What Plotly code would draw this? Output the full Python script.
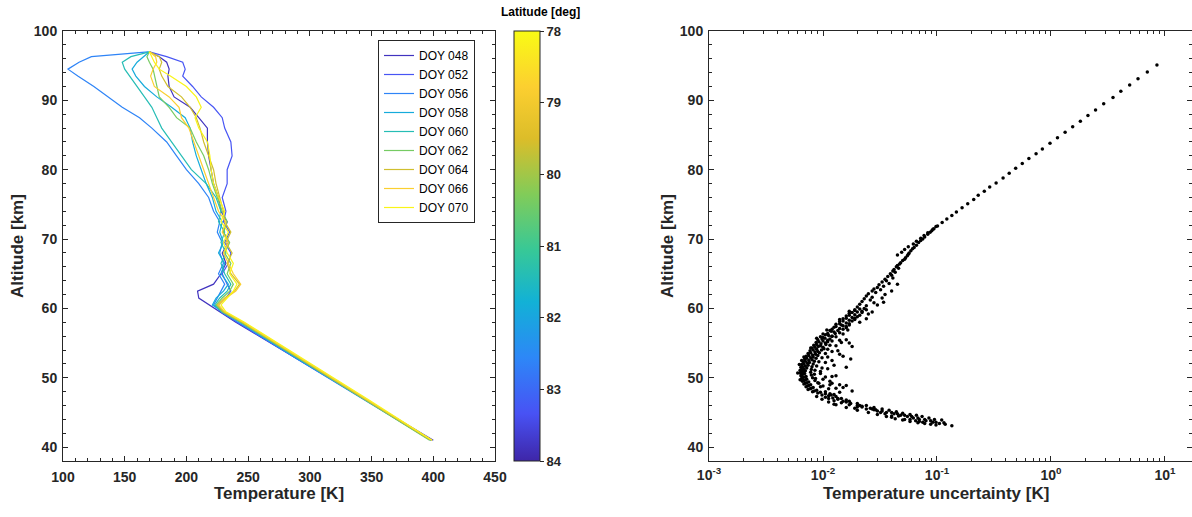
import plotly.graph_objects as go
from plotly.colors import sample_colorscale

W, H = 1192, 517

# ---------------- data: temperature profiles ----------------
altitude_km = [41, 44, 47, 50, 53, 56, 58, 59.5, 60.5, 61.5, 62.5, 63.5, 65, 66.5, 68, 69.5,
               71, 72.5, 74, 76, 78, 80, 82, 84, 86, 87.5, 89, 90.5, 92, 93.5, 94.5, 95.5, 96.3, 97]

doy_labels = ["DOY 048", "DOY 052", "DOY 056", "DOY 058", "DOY 060",
              "DOY 062", "DOY 064", "DOY 066", "DOY 070"]
latitudes = [83.8, 83.3, 82.6, 81.9, 81.4, 80.4, 79.6, 78.8, 78.1]

T048 = [400, 372, 344, 316, 288, 259, 240, 227, 218, 210, 209, 222, 228, 232, 229, 234, 230, 233,
        228, 226, 222, 220, 218, 217, 217, 210, 203, 190, 186, 185, 186, 184, 178, 170]
T052 = [399, 371, 343, 315, 287, 259, 241, 228, 226, 232, 236, 233, 229, 234, 236, 231, 235, 230,
        232, 229, 233, 233, 237, 236, 231, 229, 222, 212, 205, 197, 199, 197, 184, 170]
T056 = [398, 370, 342, 315, 287, 260, 242, 228, 222, 225, 228, 231, 226, 230, 227, 229, 225, 227,
        222, 218, 210, 200, 192, 184, 172, 162, 148, 137, 125, 112, 104, 113, 123, 169]
T058 = [398, 371, 343, 316, 288, 261, 243, 229, 221, 224, 230, 234, 228, 231, 226, 230, 227, 229,
        224, 221, 216, 212, 208, 205, 203, 199, 188, 176, 166, 159, 156, 160, 165, 170]
T060 = [398, 371, 343, 316, 289, 262, 244, 229, 223, 227, 233, 236, 231, 228, 232, 228, 231, 226,
        228, 224, 216, 204, 196, 188, 180, 176, 172, 166, 160, 154, 150, 148, 155, 170]
T062 = [397, 370, 343, 316, 289, 262, 244, 229, 224, 229, 235, 238, 233, 236, 231, 235, 230, 233,
        229, 225, 221, 218, 214, 208, 203, 192, 186, 178, 176, 174, 173, 170, 168, 170]
T064 = [398, 371, 344, 317, 290, 263, 245, 230, 225, 231, 239, 243, 236, 233, 237, 232, 236, 231,
        230, 227, 224, 222, 218, 214, 211, 208, 203, 196, 185, 180, 178, 180, 178, 170]
T066 = [399, 372, 345, 318, 291, 264, 246, 231, 226, 232, 240, 244, 238, 234, 230, 234, 229, 232,
        226, 222, 218, 214, 210, 206, 202, 196, 194, 186, 174, 171, 173, 176, 175, 170]
T070 = [399, 373, 346, 319, 292, 265, 247, 232, 228, 233, 238, 241, 235, 238, 233, 230, 234, 228,
        231, 226, 222, 220, 219, 217, 210, 207, 212, 208, 200, 187, 178, 174, 172, 170]
profiles = [T048, T052, T056, T058, T060, T062, T064, T066, T070]

# ---------------- data: temperature uncertainty ----------------
unc_alt_upper = [95.1, 94.1, 93.1, 92.2, 91.3, 90.4, 89.5, 88.6, 87.8, 87.0, 86.2, 85.4, 84.6, 83.8,
                 83.0, 82.3, 81.6, 80.9, 80.2, 79.5, 78.8, 78.1, 77.5, 76.9, 76.3, 75.7, 75.1, 74.5,
                 73.9, 73.4, 72.9, 72.4, 71.9, 71.4, 70.9, 70.5, 70.1, 69.7, 69.3, 68.9, 68.5, 68.1, 67.7]
unc_val_upper = [8.5, 7.0, 5.8, 4.9, 4.1, 3.5, 2.9, 2.46, 2.11, 1.81, 1.55, 1.33, 1.14, 0.98,
                 0.84, 0.74, 0.64, 0.56, 0.49, 0.43, 0.38, 0.33, 0.29, 0.26, 0.23, 0.21, 0.186, 0.166,
                 0.148, 0.135, 0.122, 0.111, 0.101, 0.092, 0.083, 0.077, 0.072, 0.066, 0.062, 0.056, 0.052, 0.049, 0.045]

unc_alt_mid = [71.8, 71.5, 71.2, 71.0, 70.7, 70.3, 70.0, 69.8, 69.5, 69.1, 68.8, 68.6, 68.3, 68.0, 67.8,
               67.6, 67.3, 67.1, 66.9, 66.6, 66.4, 66.2, 66.0, 65.8, 65.6, 65.4, 65.2, 65.0, 64.8, 64.6,
               64.4, 64.2, 64.0, 63.8, 63.6, 63.4, 63.2, 63.0, 62.8, 62.7, 62.5, 62.3, 62.1, 62.0, 61.8,
               61.6, 61.4, 61.2, 61.0, 60.8, 60.6, 60.4, 60.2, 60.0, 59.8, 59.6, 59.4, 59.2, 59.0, 58.8,
               58.6, 58.4, 58.2, 58.0, 57.8, 57.6, 57.4, 57.2, 57.0, 63.5, 61.5, 60.5, 59.5, 58.5, 62.5, 60.9]
unc_val_mid = [0.098, 0.094, 0.090, 0.087, 0.083, 0.078, 0.075, 0.072, 0.069, 0.066, 0.063, 0.061, 0.059,
               0.057, 0.056, 0.055, 0.053, 0.052, 0.050, 0.048, 0.047, 0.045, 0.044, 0.046, 0.042, 0.041,
               0.043, 0.039, 0.040, 0.037, 0.041, 0.035, 0.036, 0.033, 0.038, 0.031, 0.034, 0.030, 0.028,
               0.032, 0.027, 0.029, 0.025, 0.035, 0.024, 0.027, 0.023, 0.026, 0.022, 0.028, 0.021, 0.024,
               0.020, 0.023, 0.019, 0.022, 0.018, 0.025, 0.017, 0.020, 0.016, 0.019, 0.015, 0.021, 0.014,
               0.017, 0.013, 0.016, 0.012, 0.045, 0.033, 0.030, 0.027, 0.024, 0.040, 0.034]

unc_alt_fill_a = [59.9, 59.7, 59.5, 59.3, 59.1, 58.9, 58.7, 58.5, 58.3, 58.1, 57.9, 57.7, 57.5, 57.3,
                  57.1, 59.8, 59.4, 59.0, 58.6, 58.2, 57.8, 57.4, 57.0, 59.6, 58.4, 57.6]
unc_val_fill_a = [0.021, 0.019, 0.020, 0.017, 0.019, 0.016, 0.018, 0.015, 0.017, 0.014, 0.016, 0.013,
                  0.015, 0.0125, 0.014, 0.024, 0.022, 0.021, 0.019, 0.018, 0.017, 0.016, 0.015, 0.017,
                  0.014, 0.0145]

unc_alt_min = [56.8, 56.6, 56.4, 56.2, 56.0, 55.8, 55.6, 55.4, 55.2, 55.0, 54.8, 54.6, 54.4, 54.2, 54.0,
               53.8, 53.6, 53.4, 53.2, 53.0, 52.8, 52.6, 52.4, 52.2, 52.0, 51.8, 51.6, 51.4, 51.2, 51.0,
               50.8, 50.6, 50.4, 50.2, 50.0, 49.8, 49.6, 49.4, 49.2, 49.0, 48.8, 48.6, 48.4, 48.2, 48.0,
               56.5, 55.9, 55.3, 54.7, 54.1, 53.5, 52.9, 52.3, 51.7, 51.1, 50.5, 49.9, 49.3, 48.7, 55.5,
               53.9, 52.5, 51.3, 50.1, 49.5, 54.5, 50.9, 53.1, 56.9, 55.1, 51.5, 52.7, 49.0, 50.3,
               53.0, 51.9, 50.7, 49.7, 52.5, 54.3, 55.7, 48.6, 48.1, 49.2, 47.9]
unc_val_min = [0.0115, 0.0125, 0.011, 0.0105, 0.012, 0.010, 0.0098, 0.011, 0.0092, 0.0105, 0.0088, 0.0095,
               0.0085, 0.0102, 0.0082, 0.0090, 0.0078, 0.0086, 0.0075, 0.0082, 0.0072, 0.0080, 0.0070,
               0.0076, 0.0068, 0.0074, 0.0066, 0.0072, 0.0065, 0.0070, 0.0064, 0.0069, 0.0065, 0.0071,
               0.0066, 0.0072, 0.0068, 0.0075, 0.0070, 0.0078, 0.0073, 0.0082, 0.0077, 0.0088, 0.0081,
               0.014, 0.013, 0.012, 0.0115, 0.011, 0.0105, 0.0098, 0.0092, 0.0088, 0.0085, 0.0084, 0.0086,
               0.009, 0.0095, 0.016, 0.0135, 0.012, 0.011, 0.0105, 0.0115, 0.018, 0.0095, 0.015, 0.0165,
               0.0145, 0.016, 0.0175, 0.014, 0.013,
               0.0068, 0.0062, 0.0060, 0.0063, 0.0065, 0.0078, 0.0088, 0.015, 0.018, 0.012, 0.014]

unc_alt_fill_b = [56.9, 56.7, 56.3, 56.1, 55.9, 55.7, 55.5, 55.3, 55.1, 54.9, 54.7, 54.5, 54.3, 54.1,
                  53.9, 53.7, 53.5, 53.3, 53.1, 52.9, 52.7, 52.5, 52.3, 52.1, 51.9, 51.7, 51.5, 51.3,
                  51.1, 50.9, 50.7, 50.5, 50.3, 50.1, 49.9, 49.7, 49.5, 49.3, 49.1, 48.9, 48.7, 48.5,
                  48.3, 48.1,
                  56.8, 56.4, 56.0, 55.6, 55.2, 54.8, 54.4, 54.0, 53.6, 53.2, 52.8, 52.4, 52.0, 51.6,
                  51.2, 50.8, 50.4, 50.0, 49.6, 49.2, 48.8, 48.4,
                  56.3, 55.4, 54.6, 53.8, 53.0, 52.2, 51.4, 50.6, 49.8, 49.0, 48.5, 55.0, 53.4, 51.8,
                  50.2, 48.9]
unc_val_fill_b = [0.0108, 0.0118, 0.0100, 0.0112, 0.0095, 0.0104, 0.0090, 0.0100, 0.0087, 0.0096,
                  0.0083, 0.0091, 0.0080, 0.0088, 0.0077, 0.0085, 0.0074, 0.0081, 0.0071, 0.0078,
                  0.0069, 0.0075, 0.0067, 0.0073, 0.0065, 0.0070, 0.0064, 0.0068, 0.0063, 0.0067,
                  0.0063, 0.0066, 0.0064, 0.0068, 0.0065, 0.0070, 0.0066, 0.0072, 0.0068, 0.0075,
                  0.0071, 0.0079, 0.0074, 0.0084,
                  0.0135, 0.0128, 0.0120, 0.0115, 0.0110, 0.0106, 0.0100, 0.0097, 0.0093, 0.0090,
                  0.0087, 0.0084, 0.0082, 0.0080, 0.0079, 0.0078, 0.0079, 0.0081, 0.0085, 0.0092,
                  0.0100, 0.0112,
                  0.0150, 0.0140, 0.0130, 0.0120, 0.0110, 0.0105, 0.0098, 0.0095, 0.0100, 0.0115,
                  0.0130, 0.0170, 0.0140, 0.0125, 0.0120, 0.0160]

unc_alt_tail = [47.8, 47.5, 47.2, 47.0, 46.7, 46.4, 46.1, 45.8, 45.5, 45.2, 45.0, 44.8, 44.6, 44.4, 44.2,
                44.0, 43.8, 43.6, 43.4, 43.3, 43.1,
                48.0, 47.7, 47.3, 47.0, 46.6, 46.3, 46.0, 45.7, 45.5, 45.3, 45.1, 44.9, 44.7, 44.6, 44.4,
                44.2, 44.0, 43.9,
                47.3, 46.9, 46.5, 46.1, 45.7, 45.3, 45.0, 44.7, 44.4, 44.1, 43.9, 43.7, 43.5, 43.4, 43.3, 43.2,
                46.8, 45.9, 45.4, 44.5, 44.0, 43.6, 45.6, 44.3, 46.2, 47.6, 44.8, 43.8,
                47.9, 47.7, 47.4, 47.1, 46.9, 46.6, 46.3, 46.0, 45.8, 45.6, 45.4, 45.2, 45.0, 44.8, 44.6,
                44.4, 44.2, 44.0, 43.8, 43.6, 43.5, 47.5, 47.0, 46.5, 46.0, 45.5, 45.0, 44.5, 44.0, 43.7]
unc_val_tail = [0.0090, 0.0098, 0.0105, 0.0112, 0.0125, 0.0145, 0.017, 0.020, 0.024, 0.030, 0.036, 0.042,
                0.048, 0.055, 0.062, 0.070, 0.080, 0.092, 0.105, 0.118, 0.135,
                0.0105, 0.0115, 0.0130, 0.0145, 0.017, 0.020, 0.024, 0.028, 0.033, 0.038, 0.044, 0.050,
                0.058, 0.066, 0.074, 0.085, 0.095, 0.11,
                0.0088, 0.0098, 0.0112, 0.0130, 0.016, 0.020, 0.025, 0.030, 0.036, 0.043, 0.050, 0.058,
                0.068, 0.078, 0.088, 0.098,
                0.016, 0.022, 0.029, 0.046, 0.058, 0.075, 0.019, 0.040, 0.0125, 0.0125, 0.035, 0.065,
                0.0095, 0.0105, 0.0112, 0.0122, 0.0135, 0.0150, 0.0175, 0.020, 0.022, 0.026, 0.028, 0.033,
                0.040, 0.045, 0.052, 0.060, 0.068, 0.078, 0.088, 0.098, 0.115, 0.0118, 0.0135, 0.0160,
                0.0210, 0.0270, 0.0320, 0.0400, 0.0520, 0.0700]

lat_ticks = [84, 83, 82, 81, 80, 79, 78]
log_tick_vals = [1e-3, 1e-2, 1e-1, 1e0, 1e1]
log_tick_text = ["10<sup>-3</sup>", "10<sup>-2</sup>", "10<sup>-1</sup>", "10<sup>0</sup>", "10<sup>1</sup>"]

# ---------------- styling ----------------
FONT = "Liberation Sans, Arial, Helvetica, sans-serif"
AX = "#262626"
parula = [[0.00, "#3e26a8"], [0.11, "#4852f4"], [0.24, "#2d87f7"], [0.37, "#12b1d6"],
          [0.49, "#37c897"], [0.62, "#81cc59"], [0.75, "#dcbd29"], [0.87, "#fccf30"], [1.00, "#f9fb15"]]

def px_x(p):
    return p / W

def px_y(p):
    return (H - p) / H

fig = go.Figure()

for name, lat, T in zip(doy_labels, latitudes, profiles):
    col = sample_colorscale(parula, [(84 - lat) / 6])[0]
    fig.add_trace(go.Scatter(x=T, y=altitude_km, mode="lines", name=name,
                             line=dict(color=col, width=1.2), xaxis="x", yaxis="y"))

# colorbar carrier (latitude, axis reversed by negation)
fig.add_trace(go.Scatter(
    x=[0, 0], y=[0, 0], mode="markers", showlegend=False, hoverinfo="skip",
    marker=dict(color=[-84, -78], cmin=-84, cmax=-78, colorscale=parula, opacity=0, size=1,
                showscale=True,
                colorbar=dict(x=px_x(514), xanchor="left", y=(px_y(31) + px_y(461)) / 2,
                              yanchor="middle", len=px_y(31) - px_y(461), lenmode="fraction",
                              thickness=26, thicknessmode="pixels", outlinewidth=1, outlinecolor=AX,
                              xpad=0, ypad=0, tickvals=[-v for v in lat_ticks],
                              ticktext=[str(v) for v in lat_ticks], ticks="outside", ticklen=4,
                              tickcolor=AX, tickfont=dict(family=FONT, size=13, color=AX, weight="bold"))),
    xaxis="x", yaxis="y"))

unc_alt = unc_alt_upper + unc_alt_mid + unc_alt_fill_a + unc_alt_min + unc_alt_fill_b + unc_alt_tail
unc_val = unc_val_upper + unc_val_mid + unc_val_fill_a + unc_val_min + unc_val_fill_b + unc_val_tail
fig.add_trace(go.Scatter(x=unc_val, y=unc_alt, mode="markers", showlegend=False,
                         marker=dict(color="black", size=3.5, line=dict(width=0)),
                         xaxis="x2", yaxis="y2"))

tickfont = dict(family=FONT, size=14, color=AX, weight="bold")
common = dict(showline=True, linecolor=AX, linewidth=1, mirror="ticks", ticks="inside",
              ticklen=5, tickcolor=AX, tickwidth=1, showgrid=False, zeroline=False,
              tickfont=tickfont, automargin=False)

ydom = [px_y(461), px_y(31)]
fig.update_layout(
    width=W, height=H, margin=dict(l=0, r=0, t=0, b=0, autoexpand=False),
    paper_bgcolor="white", plot_bgcolor="white",
    font=dict(family=FONT, color=AX),
    xaxis=dict(domain=[px_x(63), px_x(495)], range=[100, 450], dtick=50, tick0=100,
               ticklabelstandoff=3,
               minor=dict(dtick=10, ticks="inside", ticklen=3, tickcolor=AX, showgrid=False),
               anchor="y", **common),
    yaxis=dict(domain=ydom, range=[38, 100], tickvals=[40, 50, 60, 70, 80, 90, 100],
               ticklabelstandoff=2,
               minor=dict(dtick=2, tick0=0, ticks="inside", ticklen=3, tickcolor=AX, showgrid=False),
               anchor="x", **common),
    xaxis2=dict(domain=[px_x(709), 1.0], type="log", range=[-3, 1.237],
                tickvals=log_tick_vals, ticktext=log_tick_text, ticklabelstandoff=1,
                minor=dict(ticks="inside", ticklen=3, tickcolor=AX, dtick="D1", showgrid=False),
                anchor="y2", **common),
    yaxis2=dict(domain=ydom, range=[38, 100], tickvals=[40, 50, 60, 70, 80, 90, 100],
                ticklabelstandoff=2,
                minor=dict(dtick=2, tick0=0, ticks="inside", ticklen=3, tickcolor=AX, showgrid=False),
                anchor="x2", **common),
    showlegend=True,
    legend=dict(x=px_x(378), y=px_y(40), xanchor="left", yanchor="top",
                bgcolor="white", bordercolor=AX, borderwidth=1,
                font=dict(family=FONT, size=12, color="black")),
)

title_font = dict(family=FONT, size=17, color=AX, weight="bold")
fig.add_annotation(x=px_x(18), y=px_y(246), xref="paper", yref="paper", text="Altitude [km]",
                   textangle=-90, showarrow=False, font=title_font, xanchor="center", yanchor="middle")
fig.add_annotation(x=px_x(279), y=px_y(493), xref="paper", yref="paper", text="Temperature [K]",
                   showarrow=False, font=title_font, xanchor="center", yanchor="middle")
fig.add_annotation(x=px_x(668), y=px_y(246), xref="paper", yref="paper", text="Altitude [km]",
                   textangle=-90, showarrow=False, font=title_font, xanchor="center", yanchor="middle")
fig.add_annotation(x=px_x(936), y=px_y(493), xref="paper", yref="paper",
                   text="Temperature uncertainty [K]", showarrow=False, font=title_font,
                   xanchor="center", yanchor="middle")
fig.add_annotation(x=px_x(540), y=px_y(12), xref="paper", yref="paper", text="Latitude [deg]",
                   showarrow=False, font=dict(family=FONT, size=12, color="black", weight="bold"),
                   xanchor="center", yanchor="middle")

fig.write_html("out.html")
